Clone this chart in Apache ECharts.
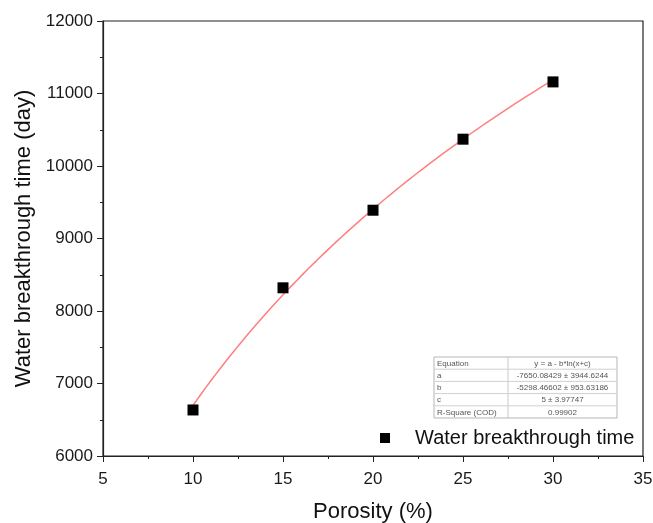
<!DOCTYPE html>
<html>
<head>
<meta charset="utf-8">
<script src="https://cdn.jsdelivr.net/npm/echarts@6/dist/echarts.min.js"></script>
<style>
  html, body { margin: 0; padding: 0; background: #fff; }
  #chart { width: 653px; height: 523px; }
</style>
</head>
<body>
<div id="chart"></div>
<script>
// Measured water breakthrough time for each porosity
const porosity = [10, 15, 20, 25, 30];
const breakthroughDays = [6635, 8320, 9390, 10370, 11160];

// Fit parameters: y = a - b*ln(x + c)
const fitA = -7650.08429;
const fitB = -5298.46602;
const fitC = 5;
const fitRange = [10, 30];

// Fit summary table rows
const tableRows = [
  ['Equation', 'y = a - b*ln(x+c)'],
  ['a', '-7650.08429 \u00b1 3944.6244'],
  ['b', '-5298.46602 \u00b1 953.63186'],
  ['c', '5 \u00b1 3.97747'],
  ['R-Square (COD)', '0.99902']
];

const fitCurve = [];
for (let x = fitRange[0]; x <= fitRange[1] + 1e-9; x += 0.25) {
  fitCurve.push([x, fitA - fitB * Math.log(x + fitC)]);
}

const FONT = 'Liberation Sans, Arial, sans-serif';

// Fit-summary table drawn as graphic elements
const tbl = { x: 434, y: 357, w1: 74, w2: 109, h: 12.2 };
const tableChildren = [];
tableChildren.push({
  type: 'rect', shape: { x: tbl.x, y: tbl.y, width: tbl.w1 + tbl.w2, height: tbl.h * tableRows.length },
  style: { fill: '#fff', stroke: '#b5b5b5', lineWidth: 1 }
});
tableChildren.push({
  type: 'line', shape: { x1: tbl.x + tbl.w1, y1: tbl.y, x2: tbl.x + tbl.w1, y2: tbl.y + tbl.h * tableRows.length },
  style: { stroke: '#c8c8c8', lineWidth: 1 }
});
tableRows.forEach((row, i) => {
  if (i > 0) {
    tableChildren.push({
      type: 'line', shape: { x1: tbl.x, y1: tbl.y + tbl.h * i, x2: tbl.x + tbl.w1 + tbl.w2, y2: tbl.y + tbl.h * i },
      style: { stroke: '#d0d0d0', lineWidth: 1 }
    });
  }
  tableChildren.push({
    type: 'text', x: tbl.x + 3, y: tbl.y + tbl.h * i + tbl.h / 2 + 0.5,
    style: { text: row[0], fontFamily: FONT, fontSize: 8, fill: '#555', verticalAlign: 'middle', align: 'left' }
  });
  tableChildren.push({
    type: 'text', x: tbl.x + tbl.w1 + tbl.w2 / 2, y: tbl.y + tbl.h * i + tbl.h / 2 + 0.5,
    style: { text: row[1], fontFamily: FONT, fontSize: 8, fill: '#555', verticalAlign: 'middle', align: 'center' }
  });
});

const chart = echarts.init(document.getElementById('chart'));
chart.setOption({
  animation: false,
  backgroundColor: '#fff',
  grid: {
    left: 103, right: 10, top: 21, bottom: 67,
    outerBoundsMode: 'none', containLabel: false,
    show: true, borderColor: '#222', borderWidth: 1.2, backgroundColor: 'transparent'
  },
  xAxis: {
    type: 'value', min: 5, max: 35, interval: 5,
    name: 'Porosity (%)', nameLocation: 'middle', nameGap: 45,
    nameTextStyle: { fontFamily: FONT, fontSize: 22, color: '#111' },
    axisLine: { show: true, onZero: false, lineStyle: { color: '#222', width: 1.2 } },
    axisTick: { show: true, inside: false, length: 6, lineStyle: { color: '#222' } },
    minorTick: { show: true, splitNumber: 2, length: 3, lineStyle: { color: '#222' } },
    axisLabel: { fontFamily: FONT, fontSize: 17, color: '#1a1a1a', margin: 15 },
    splitLine: { show: false }
  },
  yAxis: {
    type: 'value', min: 6000, max: 12000, interval: 1000,
    name: 'Water breakthrough time (day)', nameLocation: 'middle', nameGap: 63,
    nameTextStyle: { fontFamily: FONT, fontSize: 22, color: '#111' },
    axisLine: { show: true, onZero: false, lineStyle: { color: '#222', width: 1.2 } },
    axisTick: { show: true, inside: false, length: 6, lineStyle: { color: '#222' } },
    minorTick: { show: true, splitNumber: 2, length: 3, lineStyle: { color: '#222' } },
    axisLabel: { fontFamily: FONT, fontSize: 17, color: '#1a1a1a', margin: 10, formatter: v => String(v) },
    splitLine: { show: false }
  },
  legend: {
    data: ['Water breakthrough time'],
    left: 380, top: 426, padding: 0,
    icon: 'rect', itemWidth: 10, itemHeight: 10, itemGap: 0,
    textStyle: { fontFamily: FONT, fontSize: 20, color: '#111', lineHeight: 24, padding: [0, 0, 0, 20] }
  },
  series: [
    {
      name: 'Fit', type: 'line', data: fitCurve, showSymbol: false, smooth: false,
      lineStyle: { color: '#ff7f7f', width: 1.5 }, z: 2
    },
    {
      name: 'Water breakthrough time', type: 'scatter',
      data: porosity.map((p, i) => [p, breakthroughDays[i]]),
      symbol: 'rect', symbolSize: 11,
      itemStyle: { color: '#000', opacity: 1 }, z: 3
    }
  ],
  graphic: [{ type: 'group', children: tableChildren }]
});
</script>
</body>
</html>
